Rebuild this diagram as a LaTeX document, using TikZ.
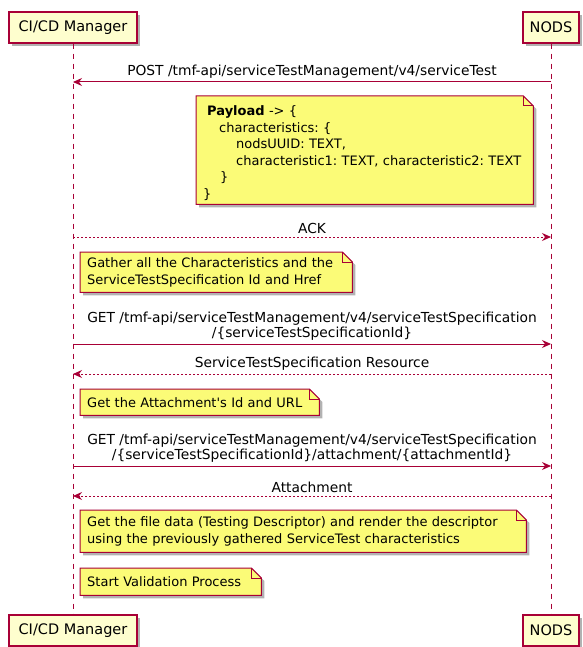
\documentclass[tikz,border=0pt]{standalone}
\usepackage{fontspec}
\setmainfont{DejaVu Sans}[Ligatures=TeXOff]
\frenchspacing
\usetikzlibrary{arrows.meta,shadows,backgrounds,calc}
\definecolor{pumlred}{HTML}{A80036}
\definecolor{partfill}{HTML}{FEFECE}
\definecolor{notefill}{HTML}{FBFB77}
\tikzset{
 shd/.style={drop shadow={shadow xshift=3pt,shadow yshift=-3pt,opacity=0.3,fill=black}},
 part/.style={draw=pumlred, fill=partfill, line width=1.2pt, minimum height=31pt, inner sep=0pt, font=\fontsize{14.5}{16}\selectfont, shd},
 lifeline/.style={draw=pumlred, dash pattern=on 5pt off 5pt, line width=1pt},
 msg/.style={draw=pumlred, line width=1pt, -{Stealth[length=9pt,width=8pt,inset=3pt]}},
 ret/.style={msg, dash pattern=on 2pt off 2pt},
 lbl/.style={font=\fontsize{13.8}{15}\selectfont, align=center, anchor=south, inner sep=0pt},
 notetext/.style={anchor=north west, font=\fontsize{13}{16.5}\selectfont, align=left, inner xsep=7pt, inner ysep=0pt},
 notebody/.style={draw=pumlred, fill=notefill, line width=1pt, shd},
}
\newcommand\notebg[1]{%
\begin{scope}[on background layer]
\path[notebody] (#1.north west) -- ($(#1.north east)+(-10,0)$) -- ($(#1.north east)+(0,10)$) -- (#1.south east) -- (#1.south west) -- cycle;
\draw[pumlred, line width=1pt] ($(#1.north east)+(-10,0)$) -- ($(#1.north east)+(-10,10)$) -- ($(#1.north east)+(0,10)$);
\end{scope}}
\begin{document}
\begin{tikzpicture}[x=1pt,y=-1pt]
\useasboundingbox (0,0) rectangle (582,647);
% participants
\node[part, minimum width=128pt] (cicdT) at (73,27.5) {CI/CD Manager};
\node[part, minimum width=56pt] (nodsT) at (551,27.5) {NODS};
\node[part, minimum width=128pt] (cicdB) at (73,630.5) {CI/CD Manager};
\node[part, minimum width=56pt] (nodsB) at (551,630.5) {NODS};
\draw[lifeline] (cicdT.south) -- (cicdB.north);
\draw[lifeline] (nodsT.south) -- (nodsB.north);
% message end points
\coordinate (a1) at (cicdT.south |- 0,82);  \coordinate (b1) at (nodsT.south |- 0,82);
\coordinate (a2) at (cicdT.south |- 0,237); \coordinate (b2) at (nodsT.south |- 0,237);
\coordinate (a3) at (cicdT.south |- 0,344); \coordinate (b3) at (nodsT.south |- 0,344);
\coordinate (a4) at (cicdT.south |- 0,374); \coordinate (b4) at (nodsT.south |- 0,374);
\coordinate (a5) at (cicdT.south |- 0,466); \coordinate (b5) at (nodsT.south |- 0,466);
\coordinate (a6) at (cicdT.south |- 0,496); \coordinate (b6) at (nodsT.south |- 0,496);
% messages
\draw[msg] (b1) -- (a1) node[lbl, pos=0.5, yshift=3pt] (l1) {POST /tmf-api/serviceTestManagement/v4/serviceTest};
\draw[ret] (a2) -- (b2) node[lbl, pos=0.5, yshift=3pt] (l2) {ACK};
\draw[msg] (a3) -- (b3) node[lbl, pos=0.5, yshift=3pt] (l3) {GET /tmf-api/serviceTestManagement/v4/serviceTestSpecification\\/\{serviceTestSpecificationId\}};
\draw[ret] (b4) -- (a4) node[lbl, pos=0.5, yshift=3pt] (l4) {ServiceTestSpecification Resource};
\draw[msg] (a5) -- (b5) node[lbl, pos=0.5, yshift=3pt] (l5) {GET /tmf-api/serviceTestManagement/v4/serviceTestSpecification\\/\{serviceTestSpecificationId\}/attachment/\{attachmentId\}};
\draw[ret] (b6) -- (a6) node[lbl, pos=0.5, yshift=3pt] (l6) {Attachment};
% notes
\node[notetext, text width=323pt, minimum height=108pt] (n1) at (196,96) {\rule{0pt}{16pt}\hspace*{4pt}\textbf{Payload} -> \{\\
\hspace*{16pt}characteristics: \{\\
\hspace*{33pt}nodsUUID: TEXT,\\
\hspace*{33pt}characteristic1: TEXT, characteristic2: TEXT\\
\hspace*{17pt}\}\\
\}};
\notebg{n1}
\node[notetext, text width=258pt, minimum height=40pt] (n2) at (80,252) {Gather all the Characteristics and the\\ServiceTestSpecification Id and Href};
\notebg{n2}
\node[notetext, text width=225pt, minimum height=26pt] (n3) at (80,389) {Get the Attachment's Id and URL};
\notebg{n3}
\node[notetext, text width=432pt, minimum height=42pt] (n4) at (80,510) {Get the file data (Testing Descriptor) and render the descriptor\\using the previously gathered ServiceTest characteristics};
\notebg{n4}
\node[notetext, text width=167pt, minimum height=27pt] (n5) at (80,568) {Start Validation Process};
\notebg{n5}
\end{tikzpicture}
\end{document}
